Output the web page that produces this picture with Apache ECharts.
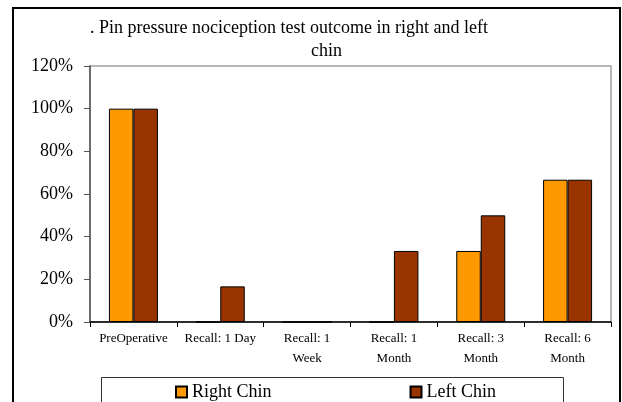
<!DOCTYPE html>
<html>
<head>
<meta charset="utf-8">
<script src="https://cdn.jsdelivr.net/npm/echarts@6/dist/echarts.min.js"></script>
<style>
  html, body { margin: 0; padding: 0; background: #fff; }
  #chart { width: 622px; height: 402px; }
</style>
</head>
<body>
<div id="chart"></div>
<script>
// 数据
var categories = ['PreOperative', 'Recall: 1 Day', 'Recall: 1\nWeek', 'Recall: 1\nMonth', 'Recall: 3\nMonth', 'Recall: 6\nMonth'];
var rightChin = [100, 0, 0, 0, 33.3, 66.7];
var leftChin = [100, 16.7, 0, 33.3, 50, 66.7];
var yTicks = [0, 20, 40, 60, 80, 100, 120];

var serif = '"Liberation Serif", "Times New Roman", serif';

var myChart = echarts.init(document.getElementById('chart'));

var option = {
    backgroundColor: '#fff',
    animation: false,
    textStyle: { fontFamily: serif, color: '#000' },
    title: [
        {
            text: '. Pin pressure nociception test outcome in right and left',
            left: 90, top: 19, padding: 0,
            textStyle: { fontFamily: serif, fontSize: 18, fontWeight: 'normal', color: '#000' }
        },
        {
            text: 'chin',
            left: 311, top: 42, padding: 0,
            textStyle: { fontFamily: serif, fontSize: 18, fontWeight: 'normal', color: '#000' }
        }
    ],
    legend: {
        data: ['Right Chin', 'Left Chin'],
        left: 175, top: 383, padding: 0,
        itemWidth: 11, itemHeight: 11,
        itemGap: 138,
        textStyle: { fontFamily: serif, fontSize: 18, color: '#000' },
        icon: 'rect'
    },
    grid: {
        left: 90, right: 11, top: 66, bottom: 80,
        show: true,
        borderColor: '#a0a0a0',
        borderWidth: 1.5
    },
    xAxis: {
        type: 'category',
        data: categories,
        axisLine: { lineStyle: { color: '#000', width: 1.5 } },
        axisTick: { show: true, length: 5, lineStyle: { color: '#000' } },
        axisLabel: { fontFamily: serif, fontSize: 13, color: '#000', lineHeight: 20, margin: 7, interval: 0 }
    },
    yAxis: {
        type: 'value',
        min: yTicks[0], max: yTicks[yTicks.length - 1], interval: 20,
        axisLine: { show: true, lineStyle: { color: '#555', width: 1.5 } },
        axisTick: { show: true, length: 6, lineStyle: { color: '#555' } },
        splitLine: { show: false },
        axisLabel: { fontFamily: serif, fontSize: 18, color: '#000', margin: 17, formatter: '{value}%' }
    },
    series: [
        {
            name: 'Right Chin',
            type: 'bar',
            data: rightChin,
            barWidth: 24.5,
            barGap: '0%',
            itemStyle: { color: '#FF9900', borderColor: '#000', borderWidth: 1 }
        },
        {
            name: 'Left Chin',
            type: 'bar',
            data: leftChin,
            barWidth: 24.5,
            itemStyle: { color: '#993300', borderColor: '#000', borderWidth: 1 }
        }
    ],
    graphic: [
        {
            type: 'rect',
            shape: { x: 13, y: 8, width: 607, height: 400 },
            style: { fill: null, stroke: '#000', lineWidth: 2 },
            silent: true
        },
        {
            type: 'rect',
            shape: { x: 101.5, y: 377.5, width: 462, height: 40 },
            style: { fill: null, stroke: '#333', lineWidth: 1 },
            silent: true
        }
    ]
};

myChart.setOption(option);
</script>
</body>
</html>
